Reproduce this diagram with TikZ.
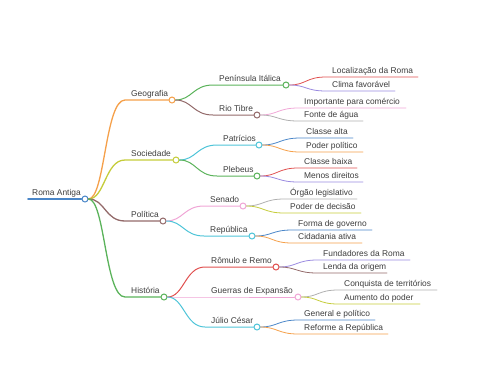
\documentclass[tikz,border=0pt]{standalone}
\usepackage{fontspec}
\setmainfont{Liberation Sans}
\definecolor{txt}{HTML}{3C3C3C}
\definecolor{cBlue}{HTML}{4A86C8}
\definecolor{cOrange}{HTML}{F5A04A}
\definecolor{cYellow}{HTML}{C5CC3A}
\definecolor{cBrown}{HTML}{936A6A}
\definecolor{cGreen}{HTML}{5BB35B}
\definecolor{cRed}{HTML}{E0504F}
\definecolor{cPurple}{HTML}{9A8AE0}
\definecolor{cPink}{HTML}{F0A6D6}
\definecolor{cGray}{HTML}{B0B0B0}
\definecolor{cCyan}{HTML}{4EC4D8}

\begin{document}
\begin{tikzpicture}[x=1pt,y=-1pt,font=\fontsize{8.4}{10}\selectfont,line cap=round,
  dot/.style={circle,draw,fill=white,inner sep=0pt,minimum size=6pt,line width=1pt},
  lbl/.style={anchor=base west,inner sep=0pt,text=txt},
  l0/.style={line width=1.8pt},l1/.style={line width=1.3pt},
  l2/.style={line width=1pt},l3/.style={line width=.8pt}]
  \useasboundingbox (0,0) rectangle (480,384);

  % Root
  \node[dot,draw=cBlue] (root) at (85,199) {};
  \coordinate (root-s) at (28,199);
  \node[lbl] (root-t) at (32,195.5) {Roma Antiga};
  \draw[cBlue,l0] (root-s) -- (root);

  % Main branches
  \foreach \n/\y/\cx/\c/\txt in {geo/100/172/cOrange/Geografia,soc/160/176/cYellow/Sociedade,
      pol/221/163/cBrown/Política,his/297/164/cGreen/História}{
    \node[dot,draw=\c] (\n) at (\cx,\y) {};
    \coordinate (\n-s) at (125,\y);
    \node[lbl] (\n-t) at (131,\y-3.5) {\txt};
    \draw[\c,l1] (root) .. controls +(20,0) and +(-20,0) .. (\n-s) -- (\n);
  }

  % Topics
  \foreach \p/\n/\tx/\y/\cx/\c/\txt in {geo/pen/219/85/286/cGreen/Península Itálica,
      geo/tib/219/115/257/cBrown/Rio Tibre,soc/pat/223/145/259/cCyan/Patrícios,
      soc/ple/223/176/257/cGreen/Plebeus,pol/sen/210/206/243/cPink/Senado,
      pol/rep/210/236/252/cCyan/República,his/rom/211/267/276/cRed/Rômulo e Remo,
      his/gue/211/297/298/cPink/Guerras de Expansão,his/jul/211/327/257/cCyan/Júlio César}{
    \node[dot,draw=\c] (\n) at (\cx,\y) {};
    \coordinate (\n-s) at (\tx-6,\y);
    \node[lbl] (\n-t) at (\tx,\y-3.5) {\txt};
    \draw[\c,l2] (\p) .. controls +(20,0) and +(-20,0) .. (\n-s) -- (\n);
  }

  % Details
  \foreach \p/\n/\tx/\y/\ex/\c/\txt in {pen/loc/332/77/418/cRed/Localização da Roma,
      pen/cli/332/91/395/cPurple/Clima favorável,
      tib/imp/304/108/406/cPink/Importante para comércio,tib/fon/304/121/363/cGray/Fonte de água,
      pat/alt/306/138/353/cBlue/Classe alta,pat/pod/306/152/363/cOrange/Poder político,
      ple/bai/304/168/357/cRed/Classe baixa,ple/men/304/182/363/cPurple/Menos direitos,
      sen/org/290/199/357/cGray/Órgão legislativo,sen/dec/290/213/361/cYellow/Poder de decisão,
      rep/for/298/230/372/cBlue/Forma de governo,rep/cid/298/243/362/cOrange/Cidadania ativa,
      rom/fun/323/260/410/cPurple/Fundadores da Roma,rom/len/323/273/387/cBrown/Lenda da origem,
      gue/con/344/290/437/cGray/Conquista de territórios,gue/aum/344/304/420/cYellow/Aumento do poder,
      jul/gen/304/320/375/cBlue/General e político,jul/ref/304/334/388/cOrange/Reforme a República}{
    \coordinate (\n-s) at (\tx-6,\y);
    \coordinate (\n-e) at (\ex,\y);
    \node[lbl] (\n) at (\tx,\y-3.5) {\txt};
    \draw[\c,l3] (\p) .. controls +(20,0) and +(-20,0) .. (\n-s) -- (\n-e);
  }
\end{tikzpicture}
\end{document}
